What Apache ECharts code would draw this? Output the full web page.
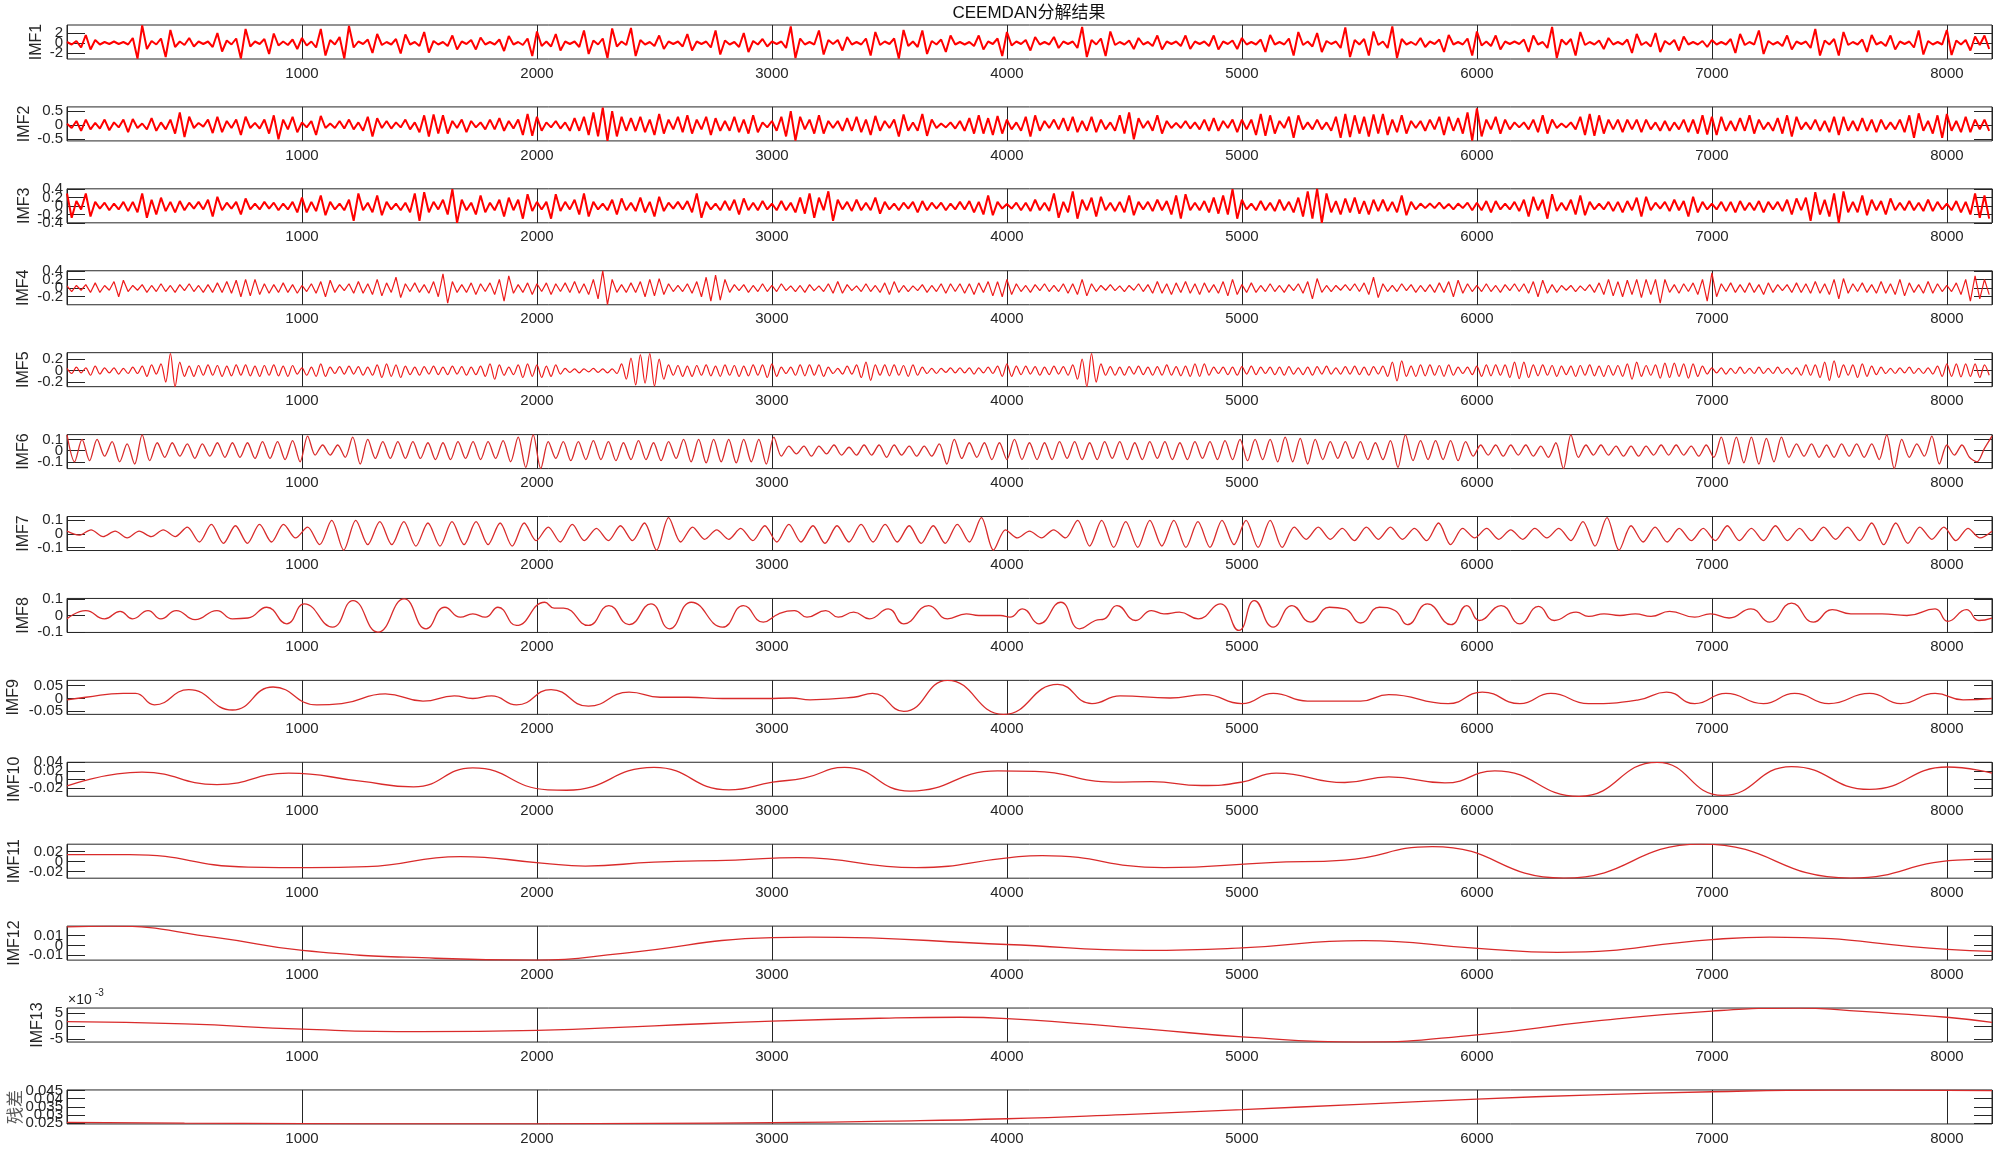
<!DOCTYPE html>
<html>
<head>
<meta charset="utf-8">
<title>CEEMDAN分解结果</title>
<script src="https://cdn.jsdelivr.net/npm/echarts@6/dist/echarts.min.js"></script>
<style>
  html, body { margin: 0; padding: 0; background: #fff; }
  #main { width: 2000px; height: 1149px; }
</style>
</head>
<body>
<div id="main"></div>
<script>
// sample count of the signal, x axis ticks
var sampleCount = 8192;
var names = ['IMF1', 'IMF2', 'IMF3', 'IMF4', 'IMF5', 'IMF6', 'IMF7', 'IMF8', 'IMF9', 'IMF10', 'IMF11', 'IMF12', 'IMF13', '残差'];

// y limits and tick values
var yMin = [-3.2, -0.56, -0.4, -0.385, -0.28, -0.161, -0.123, -0.102, -0.062, -0.039, -0.0333, -0.0149, -0.0062, 0.0245];
var yMax = [3.6, 0.65, 0.41, 0.4, 0.314, 0.143, 0.128, 0.103, 0.071, 0.04, 0.0347, 0.0197, 0.00697, 0.0454];
var yTicks = [
  [-2, 0, 2], [-0.5, 0, 0.5], [-0.4, -0.2, 0, 0.2, 0.4], [-0.2, 0, 0.2, 0.4], [-0.2, 0, 0.2],
  [-0.1, 0, 0.1], [-0.1, 0, 0.1], [-0.1, 0, 0.1], [-0.05, 0, 0.05], [-0.02, 0, 0.02, 0.04],
  [-0.02, 0, 0.02], [-0.01, 0, 0.01], [-0.005, 0, 0.005], [0.025, 0.03, 0.035, 0.04, 0.045]
];

// IMF1..IMF5: one value every 20 samples
var imf1 = [
  .2,-.3,.4,-.9,1.6,-1.3,.6,-.3,.2,-.2,
  .3,-.2,.2,-.3,1,-3.1,3.5,-1.2,.4,-.3,
  .9,-2.8,2.6,-.8,.3,-.4,1,-.7,.3,-.2,
  .3,-.8,2,-1.7,.5,-.3,.9,-3.1,2.8,-.7,
  .3,-.2,.8,-2.2,1.9,-.5,.3,-.4,.7,-1.2,
  1,-.5,.3,-.9,2.8,-2.5,.6,-.3,1.2,-3.1,
  3.4,-.9,.3,-.2,.7,-2,1.8,-.4,.2,-.3,
  .8,-2.1,1.7,-.3,.2,-.6,2.2,-1.9,.4,-.3,
  .2,-.6,1.5,-1.3,.3,-.2,.6,-1.3,1.1,-.3,
  .2,-.3,.7,-1.6,1.4,-.3,.2,-.4,.9,-2.6,
  2.3,-.6,.3,-.7,1.8,-1.5,.3,-.2,.3,-.8,
  2.5,-2.2,.5,-.3,.9,-3,2.9,-.7,.3,-.4,
  3,-2.6,.6,-.3,.2,-.6,1.5,-1.2,.3,-.2,
  .3,-.7,1.8,-1.5,.3,-.2,.3,-.9,2.5,-2.3,
  .5,-.3,.2,-.8,2,-1.8,.4,-.3,.8,-.7,
  .3,-.2,.3,-1,3.3,-3,.9,-.3,.2,-.3,
  2.5,-2.3,.6,-.2,.6,-1.5,1.2,-.3,.2,-.3,
  .9,-2.5,2.2,-.4,.3,-.2,.9,-3.1,2.6,-.6,
  .3,-.8,2.5,-2.2,.4,-.3,.7,-1.8,1.5,-.3,
  .2,-.3,.2,-.6,1.5,-1.3,.3,-.2,.9,-2.6,
  2.2,-.5,.3,-.2,.6,-1.5,1.2,-.3,.2,-.3,
  1.2,-1,.3,-.2,.3,-1,3.2,-2.8,.6,-.3,
  .9,-2.6,2.3,-.4,.2,-.3,.5,-1.2,1,-.3,
  .2,-.6,1.5,-1.3,.3,-.2,.3,-.6,1.5,-1.2,
  .3,-.2,.3,-.6,1.5,-1.3,.3,-.2,.5,-1.2,
  1,-.3,.2,-.3,.7,-1.8,1.6,-.3,.2,-.3,
  .9,-2.5,2.2,-.4,.3,-.7,2,-1.8,.4,-.2,
  .3,-1,3.1,-2.8,.6,-.3,.8,-2.5,2.3,-.4,
  .3,-1,3.3,-3,.8,-.3,.2,-.4,1,-.8,
  .3,-.2,.7,-1.8,1.6,-.3,.2,-.3,.9,-2.5,
  2.3,-.5,.3,-.6,1.5,-1.3,.3,-.2,.3,-.2,
  .7,-1.8,1.5,-.3,.2,-1,3.2,-3,.7,-.3,
  .8,-2.5,2.2,-.4,.2,-.3,.5,-1.2,1,-.3,
  .2,-.3,.7,-2,1.8,-.4,.2,-.7,2,-1.8,
  .4,-.3,.6,-1.5,1.3,-.3,.2,-.3,.4,-.8,
  .6,-.3,.2,-.3,.8,-2,1.8,-.4,.2,-.3,
  2.5,-2.2,.4,-.3,.2,-.6,1.5,-1.3,.3,-.2,
  .3,-1,2.8,-2.5,.5,-.3,.8,-2.5,2.2,-.4,
  .2,-.3,.7,-1.8,1.6,-.3,.2,-.6,1.5,-1.3,
  .3,-.2,.3,-.9,2.5,-2.3,.4,-.3,.2,-.3,
  2.6,-2.4,.5,-.3,.6,-1.5,1.3,-.4,1.5,-1.2
];
var imf2 = [
  .05,-.1,.15,-.2,.2,-.15,.08,-.12,.2,-.18,
  .1,-.08,.2,-.25,.22,-.1,.06,-.15,.25,-.2,
  .1,-.15,.2,-.3,.45,-.42,.3,-.1,.08,-.05,
  .2,-.28,.3,-.25,.15,-.1,.2,-.35,.3,-.1,
  .08,-.12,.2,-.3,.35,-.5,.2,-.15,.3,-.25,
  .1,-.08,.15,-.35,.33,-.1,.06,-.1,.15,-.12,
  .2,-.15,.1,-.2,.3,-.4,.25,-.1,.15,-.12,
  .1,-.08,.2,-.15,.1,-.25,.35,-.4,.38,-.3,
  .35,-.3,.15,-.1,.2,-.25,.15,-.08,.1,-.15,
  .2,-.15,.25,-.2,.15,-.12,.2,-.35,.4,-.38,
  .3,-.2,.1,-.08,.15,-.12,.1,-.2,.25,-.2,
  .3,-.35,.45,-.4,.62,-.56,.5,-.4,.3,-.2,
  .25,-.2,.3,-.25,.2,-.35,.4,-.3,.2,-.15,
  .3,-.25,.35,-.3,.2,-.15,.3,-.35,.25,-.2,
  .15,-.2,.3,-.25,.2,-.3,.35,-.25,.1,-.08,
  .15,-.2,.3,-.4,.5,-.55,.3,-.15,.2,-.3,
  .35,-.3,.15,-.1,.15,-.2,.25,-.2,.3,-.25,
  .2,-.35,.33,-.2,.15,-.1,.2,-.4,.38,-.2,
  .1,-.2,.4,-.38,.2,-.1,.06,-.08,.1,-.12,
  .15,-.2,.25,-.3,.35,-.3,.25,-.35,.33,-.3,
  .2,-.15,.1,-.2,.3,-.4,.35,-.2,.15,-.1,
  .2,-.15,.25,-.2,.3,-.25,.15,-.2,.3,-.25,
  .2,-.15,.1,-.2,.35,-.3,.45,-.5,.25,-.1,
  .15,-.2,.35,-.3,.15,-.1,.08,-.1,.15,-.12,
  .1,-.15,.2,-.2,.25,-.2,.15,-.1,.2,-.25,
  .2,-.15,.2,-.35,.4,-.38,.35,-.3,.15,-.1,
  .3,-.45,.35,-.15,.1,-.15,.2,-.15,.1,-.2,
  .3,-.45,.4,-.42,.35,-.3,.3,-.4,.38,-.3,
  .4,-.35,.2,-.25,.35,-.3,.15,-.1,.15,-.2,
  .2,-.15,.3,-.35,.3,-.2,.25,-.3,.45,-.55,
  .6,-.4,.2,-.15,.3,-.3,.2,-.15,.1,-.08,
  .1,-.15,.2,-.25,.35,-.3,.2,-.1,.06,-.08,
  .1,-.15,.3,-.35,.4,-.38,.35,-.3,.2,-.15,
  .2,-.25,.2,-.15,.2,-.25,.2,-.15,.1,-.2,
  .15,-.2,.1,-.15,.2,-.25,.2,-.3,.35,-.33,
  .3,-.35,.3,-.2,.15,-.2,.25,-.2,.35,-.3,
  .2,-.15,.1,-.2,.25,-.3,.35,-.4,.3,-.15,
  .1,-.15,.2,-.2,.15,-.25,.3,-.35,.3,-.2,
  .15,-.2,.25,-.2,.2,-.25,.2,-.15,.1,-.15,
  .2,-.25,.35,-.45,.42,-.2,.15,-.3,.35,-.45,
  .4,-.2,.15,-.25,.3,-.25,.2,-.15,.2,-.2
];
var imf3 = [
  .3,-.28,.12,-.08,.3,-.25,.1,-.06,.08,-.1,
  .06,-.08,.1,-.12,.1,-.15,.3,-.28,.15,-.2,
  .2,-.12,.1,-.15,.12,-.1,.08,-.06,.1,-.08,
  .15,-.25,.22,-.1,.08,-.06,.1,-.2,.18,-.08,
  .06,-.08,.1,-.06,.08,-.1,.06,-.08,.1,-.15,
  .2,-.15,.1,-.12,.25,-.22,.1,-.08,.06,-.1,
  .15,-.35,.3,-.1,.08,-.15,.25,-.22,.1,-.08,
  .06,-.1,.08,-.15,.3,-.35,.33,-.15,.1,-.08,
  .15,-.2,.4,-.4,.15,-.1,.08,-.2,.25,-.15,
  .08,-.1,.15,-.25,.2,-.1,.15,-.3,.28,-.12,
  .1,-.08,.1,-.3,.28,-.12,.1,-.08,.15,-.2,
  .3,-.25,.1,-.08,.06,-.1,.15,-.2,.18,-.1,
  .08,-.12,.2,-.15,.1,-.25,.22,-.12,.08,-.06,
  .1,-.08,.12,-.15,.3,-.28,.1,-.08,.06,-.1,
  .12,-.1,.15,-.2,.18,-.1,.08,-.1,.12,-.08,
  .06,-.1,.12,-.1,.08,-.15,.2,-.18,.3,-.28,
  .2,-.1,.35,-.35,.15,-.08,.1,-.12,.15,-.1,
  .08,-.1,.2,-.18,.1,-.08,.06,-.1,.08,-.06,
  .1,-.15,.12,-.1,.08,-.06,.08,-.1,.06,-.08,
  .1,-.08,.12,-.15,.1,-.2,.25,-.22,.1,-.06,
  .05,-.06,.08,-.1,.08,-.12,.15,-.1,.08,-.12,
  .3,-.28,.1,-.15,.35,-.3,.15,-.1,.2,-.25,
  .22,-.1,.08,-.12,.1,-.15,.25,-.22,.1,-.08,
  .1,-.12,.15,-.1,.12,-.2,.25,-.3,.28,-.1,
  .08,-.1,.12,-.15,.2,-.18,.25,-.2,.4,-.3,
  .15,-.08,.06,-.1,.12,-.1,.08,-.12,.15,-.1,
  .1,-.15,.2,-.25,.35,-.3,.41,-.4,.3,-.15,
  .12,-.2,.18,-.15,.2,-.18,.12,-.2,.15,-.12,
  .15,-.12,.1,-.15,.25,-.22,.1,-.08,.06,-.05,
  .06,-.05,.08,-.06,.05,-.08,.06,-.05,.08,-.1,
  .08,-.1,.12,-.15,.12,-.08,.06,-.08,.1,-.12,
  .15,-.25,.22,-.1,.15,-.3,.28,-.12,.08,-.1,
  .15,-.2,.25,-.22,.1,-.08,.06,-.08,.1,-.12,
  .1,-.15,.12,-.1,.2,-.25,.22,-.1,.08,-.06,
  .1,-.12,.15,-.1,.12,-.25,.22,-.15,.1,-.08,
  .06,-.08,.1,-.12,.1,-.15,.12,-.1,.08,-.1,
  .12,-.15,.1,-.08,.1,-.12,.15,-.2,.18,-.1,
  .2,-.35,.33,-.2,.15,-.25,.3,-.4,.35,-.15,
  .1,-.15,.25,-.22,.15,-.1,.12,-.2,.18,-.1,
  .08,-.1,.12,-.1,.08,-.12,.15,-.12,.1,-.08,
  .06,-.1,.12,-.15,.1,-.2,.3,-.28,.25,-.3
];
var imf4 = [
  .05,-.08,.06,-.05,.08,-.1,.12,-.1,.06,-.05,
  .15,-.2,.18,-.08,.06,-.05,.08,-.1,.06,-.08,
  .1,-.08,.06,-.1,.08,-.06,.1,-.08,.06,-.1,
  .08,-.1,.12,-.1,.15,-.12,.18,-.2,.2,-.18,
  .2,-.15,.1,-.12,.08,-.1,.12,-.1,.08,-.12,
  .06,-.08,.1,-.12,.15,-.2,.18,-.1,.08,-.06,
  .1,-.12,.15,-.12,.1,-.15,.2,-.18,.12,-.1,
  .25,-.22,.1,-.08,.12,-.1,.08,-.12,.15,-.2,
  .33,-.35,.15,-.1,.08,-.1,.12,-.15,.1,-.08,
  .12,-.15,.2,-.3,.28,-.12,.08,-.1,.12,-.15,
  .1,-.08,.12,-.15,.1,-.08,.12,-.1,.15,-.12,
  .1,-.15,.2,-.25,.4,-.38,.2,-.1,.08,-.1,
  .12,-.1,.15,-.2,.2,-.18,.22,-.15,.1,-.08,
  .06,-.08,.1,-.12,.15,-.2,.25,-.3,.3,-.28,
  .2,-.1,.08,-.06,.08,-.1,.06,-.08,.1,-.08,
  .06,-.08,.1,-.06,.05,-.08,.06,-.1,.08,-.06,
  .05,-.08,.1,-.12,.15,-.12,.08,-.06,.05,-.08,
  .1,-.08,.06,-.1,.12,-.15,.15,-.1,.06,-.08,
  .05,-.06,.08,-.1,.06,-.08,.1,-.12,.1,-.08,
  .1,-.12,.1,-.15,.12,-.1,.15,-.18,.15,-.2,
  .2,-.15,.1,-.08,.06,-.1,.08,-.06,.1,-.08,
  .06,-.08,.1,-.12,.1,-.15,.2,-.18,.1,-.08,
  .06,-.05,.08,-.06,.05,-.08,.06,-.05,.1,-.08,
  .08,-.12,.15,-.12,.1,-.15,.12,-.1,.15,-.12,
  .1,-.15,.12,-.1,.08,-.12,.15,-.18,.2,-.15,
  .08,-.1,.12,-.1,.06,-.08,.1,-.08,.06,-.1,
  .08,-.06,.1,-.12,.15,-.25,.22,-.1,.06,-.08,
  .06,-.05,.08,-.06,.1,-.08,.12,-.15,.25,-.22,
  .1,-.08,.06,-.08,.1,-.06,.08,-.1,.06,-.08,
  .08,-.1,.12,-.1,.15,-.2,.18,-.12,.1,-.08,
  .06,-.08,.1,-.08,.06,-.1,.08,-.06,.1,-.08,
  .1,-.12,.15,-.2,.18,-.12,.08,-.1,.06,-.05,
  .06,-.08,.05,-.06,.08,-.1,.12,-.15,.2,-.18,
  .15,-.2,.18,-.15,.2,-.22,.2,-.15,.2,-.35,
  .2,-.1,.08,-.12,.1,-.08,.12,-.15,.2,-.3,
  .35,-.2,.1,-.08,.12,-.1,.08,-.1,.12,-.1,
  .08,-.15,.12,-.1,.08,-.06,.08,-.1,.12,-.1,
  .1,-.12,.15,-.12,.1,-.15,.2,-.25,.22,-.12,
  .1,-.08,.12,-.1,.08,-.12,.15,-.12,.1,-.15,
  .2,-.18,.12,-.1,.08,-.12,.15,-.12,.1,-.08,
  .06,-.08,.12,-.15,.2,-.3,.28,-.25,.2,-.15
];
var imf5 = [
  .04,-.05,.06,-.04,.05,-.08,.08,-.06,.05,-.04,
  .05,-.06,.04,-.05,.06,-.05,.08,-.1,.1,-.06,
  .12,-.2,.3,-.28,.15,-.1,.08,-.1,.09,-.08,
  .1,-.08,.09,-.1,.08,-.09,.1,-.08,.1,-.09,
  .08,-.1,.09,-.08,.1,-.09,.08,-.1,.09,-.06,
  .05,-.08,.06,-.1,.12,-.1,.06,-.05,.07,-.06,
  .08,-.06,.07,-.08,.06,-.08,.1,-.12,.12,-.1,
  .1,-.12,.08,-.07,.06,-.08,.07,-.06,.08,-.07,
  .06,-.07,.08,-.06,.07,-.08,.06,-.07,.08,-.1,
  .12,-.15,.1,-.08,.06,-.07,.1,-.12,.12,-.1,
  .1,-.12,.08,-.1,.1,-.06,.04,-.03,.03,-.04,
  .03,-.02,.04,-.03,.03,-.04,.03,-.05,.12,-.15,
  .22,-.25,.28,-.22,.3,-.27,.2,-.15,.1,-.08,
  .09,-.1,.08,-.1,.09,-.08,.1,-.09,.08,-.1,
  .1,-.08,.09,-.1,.08,-.09,.1,-.08,.1,-.12,
  .12,-.1,.06,-.05,.06,-.08,.1,-.09,.1,-.08,
  .1,-.1,.06,-.05,.04,-.06,.08,-.06,.1,-.12,
  .15,-.17,.1,-.08,.1,-.09,.1,-.08,.09,-.1,
  .1,-.08,.06,-.05,.04,-.05,.04,-.03,.05,-.04,
  .05,-.04,.05,-.06,.05,-.04,.06,-.05,.08,-.1,
  .12,-.1,.08,-.07,.08,-.06,.07,-.08,.06,-.07,
  .08,-.06,.07,-.08,.1,-.15,.2,-.28,.3,-.2,
  .12,-.08,.07,-.08,.06,-.08,.07,-.06,.08,-.07,
  .06,-.08,.07,-.08,.1,-.08,.07,-.09,.08,-.1,
  .12,-.1,.12,-.08,.06,-.05,.06,-.07,.06,-.08,
  .07,-.06,.08,-.07,.06,-.05,.06,-.07,.06,-.08,
  .07,-.06,.05,-.07,.06,-.08,.07,-.06,.08,-.06,
  .05,-.06,.07,-.06,.08,-.07,.06,-.08,.07,-.06,
  .08,-.1,.15,-.18,.17,-.1,.08,-.1,.1,-.09,
  .1,-.08,.09,-.1,.1,-.08,.06,-.05,.06,-.07,
  .08,-.1,.1,-.09,.1,-.08,.1,-.12,.15,-.14,
  .15,-.12,.1,-.09,.1,-.08,.09,-.1,.08,-.07,
  .08,-.1,.09,-.08,.1,-.09,.08,-.1,.09,-.08,
  .09,-.1,.12,-.15,.15,-.1,.09,-.08,.1,-.13,
  .13,-.12,.13,-.1,.12,-.13,.12,-.1,.08,-.06,
  .05,-.04,.05,-.06,.04,-.05,.06,-.05,.04,-.05,
  .06,-.05,.04,-.05,.06,-.05,.04,-.06,.05,-.08,
  .1,-.08,.1,-.12,.15,-.17,.17,-.12,.1,-.08,
  .1,-.12,.12,-.1,.08,-.07,.06,-.05,.04,-.05,
  .05,-.04,.06,-.05,.04,-.05,.05,-.06,.08,-.1,
  .12,-.1,.12,-.11,.12,-.1,.12,-.12,.1,-.08
];
// IMF6: one value every 32 samples
var imf6 = [
  .14,-.1,.1,-.09,.1,-.05,.08,-.1,
  .06,-.12,.14,-.09,.07,-.06,.07,-.05,
  .06,-.07,.06,-.05,.07,-.06,.07,-.06,
  .07,-.07,.08,-.07,.08,-.08,.09,-.1,
  .13,-.04,.05,-.04,.05,-.06,.12,-.12,
  .1,-.07,.08,-.07,.08,-.07,.08,-.07,
  .07,-.08,.07,-.08,.08,-.07,.08,-.08,
  .08,-.07,.09,-.1,.12,-.15,.14,-.16,
  .08,-.07,.08,-.09,.08,-.08,.09,-.08,
  .08,-.09,.07,-.08,.09,-.08,.07,-.09,
  .08,-.07,.1,-.1,.1,-.11,.1,-.1,
  .1,-.11,.1,-.1,.1,-.12,.12,-.05,
  .04,-.03,.04,-.05,.04,-.03,.05,-.04,
  .03,-.04,.05,-.04,.05,-.06,.05,-.04,
  .04,-.05,.04,-.05,.06,-.12,.1,-.07,
  .07,-.06,.07,-.08,.07,-.08,.1,-.08,
  .07,-.08,.07,-.08,.08,-.07,.08,-.08,
  .07,-.08,.08,-.07,.08,-.08,.07,-.08,
  .08,-.07,.08,-.08,.07,-.08,.08,-.07,
  .08,-.08,.09,-.08,.1,-.09,.1,-.08,
  .1,-.1,.12,-.1,.11,-.12,.1,-.08,
  .08,-.07,.08,-.07,.08,-.08,.07,-.08,
  .09,-.15,.14,-.09,.09,-.08,.09,-.08,
  .09,-.09,.08,-.05,.05,-.04,.05,-.05,
  .05,-.04,.05,-.05,.04,-.06,.07,-.16,
  .14,-.06,.05,-.04,.05,-.04,.04,-.05,
  .04,-.05,.04,-.04,.05,-.04,.05,-.04,
  .04,-.05,.05,-.06,.12,-.12,.12,-.11,
  .12,-.12,.11,-.1,.12,-.06,.06,-.05,
  .06,-.06,.05,-.06,.06,-.05,.06,-.06,
  .06,-.08,.14,-.16,.1,-.06,.06,-.05,
  .13,-.12,.05,-.04,.05,-.06,-.1,.02,
  .13
];
// IMF7: one value every 51.2 samples
var imf7 = [
  .02,-.01,.03,-.02,.02,-.03,.02,-.02,.03,-.02,
  .05,-.06,.07,-.07,.06,-.07,.07,-.06,.07,-.03,
  .05,-.08,.1,-.12,.1,-.08,.09,-.08,.09,-.09,
  .08,-.09,.09,-.08,.09,-.08,.08,-.09,.08,-.05,
  .05,-.06,.07,-.05,.04,-.05,.06,-.05,.08,-.12,
  .12,-.06,.05,-.04,.03,-.04,.04,-.05,.06,-.06,
  .07,-.06,.06,-.07,.06,-.06,.07,-.06,.07,-.06,
  .06,-.07,.06,-.07,.07,-.06,.12,-.12,.03,-.03,
  .02,-.03,.03,-.03,.1,-.09,.1,-.1,.09,-.1,
  .1,-.09,.1,-.1,.09,-.1,.1,-.08,.1,-.1,
  .1,-.1,.05,-.04,.05,-.04,.04,-.05,.05,-.04,
  .05,-.04,.04,-.05,.08,-.08,.04,-.03,.04,-.04,
  .03,-.04,.04,-.03,.04,-.05,.09,-.09,.12,-.12,
  .06,-.06,.05,-.06,.04,-.05,.04,-.05,.06,-.05,
  .04,-.05,.06,-.05,.04,-.05,.05,-.04,.05,-.05,
  .08,-.08,.08,-.07,.05,-.04,.05,-.05,.04,-.03,.02
];
// IMF8..残差: [sample, value] at turning points
var imf8 = [
  [0,-.02],[80,.03],[160,-.02],[226,.025],[279,-.02],[345,.03],[399,-.02],[465,.03],[545,-.025],[638,.03],
  [704,-.02],[770,-.015],[850,.05],[935,-.05],[1010,.07],[1130,-.07],[1217,.09],[1323,-.1],[1435,.1],[1528,-.08],
  [1608,.05],[1674,-.01],[1727,.01],[1780,-.01],[1834,.05],[1913,-.06],[2033,.08],[2073,.045],[2113,.045],[2219,-.06],
  [2306,.06],[2392,-.055],[2485,.07],[2564,-.08],[2657,.08],[2790,-.07],[2878,.06],[2963,-.04],[3029,.01],[3096,.03],
  [3149,-.01],[3229,.03],[3282,-.01],[3348,.02],[3415,-.02],[3495,.04],[3561,-.05],[3667,.06],[3747,-.02],[3827,.01],
  [3880,0],[3973,0],[4013,-.01],[4066,.04],[4136,-.05],[4229,.08],[4309,-.08],[4376,-.03],[4415,-.02],[4468,.06],
  [4548,-.03],[4615,.03],[4668,.01],[4734,.02],[4814,-.02],[4907,.07],[4987,-.09],[5053,.09],[5133,-.07],[5213,.06],
  [5292,-.04],[5372,.05],[5438,.04],[5505,-.045],[5585,.05],[5651,.03],[5704,-.055],[5789,.07],[5890,-.055],[5957,.06],
  [6010,-.03],[6103,.06],[6183,-.05],[6262,.055],[6329,-.03],[6422,.02],[6475,-.005],[6541,.01],[6608,0],[6674,.01],
  [6741,-.005],[6820,.025],[6927,-.01],[6993,.01],[7073,-.015],[7166,.04],[7246,-.04],[7339,.075],[7432,-.04],[7512,.035],
  [7591,.01],[7724,.01],[7830,0],[7950,.04],[8003,-.035],[8083,.035],[8136,-.03],[8192,-.015]
];
var imf9 = [
  [0,-.005],[80,.005],[239,.02],[292,.02],[372,-.025],[518,.035],[704,-.045],[877,.045],[1063,-.025],[1169,-.02],
  [1355,.018],[1515,-.01],[1648,.01],[1727,0],[1807,.01],[1913,-.025],[2060,.035],[2219,-.03],[2392,.025],[2525,.005],
  [2644,.005],[2790,0],[2976,0],[3083,.002],[3162,-.005],[3348,.005],[3428,.02],[3561,-.05],[3747,.071],[3986,-.062],
  [4216,.055],[4362,-.02],[4482,.01],[4694,.002],[4841,.015],[5000,-.02],[5133,.02],[5279,-.01],[5505,-.01],[5625,.015],
  [5877,-.02],[6023,.025],[6183,-.02],[6315,.02],[6475,-.02],[6688,-.005],[6807,.025],[6927,-.02],[7060,.02],[7219,-.02],
  [7352,.02],[7498,-.02],[7671,.02],[7804,-.02],[7950,.02],[8069,-.005],[8192,0]
];
var imf10 = [
  [0,-.015],[319,.017],[638,-.012],[943,.015],[1249,-.004],[1475,-.017],[1727,.027],[2046,-.024],[2126,-.025],[2498,.028],
  [2817,-.024],[3003,-.006],[3136,.003],[3309,.028],[3588,-.027],[3960,.02],[4119,.019],[4455,-.006],[4615,-.005],[4827,-.014],
  [5000,-.006],[5146,.015],[5438,-.007],[5625,.006],[5864,-.008],[6076,.02],[6435,-.039],[6767,.04],[7046,-.037],[7339,.03],
  [7671,-.023],[8003,.029],[8192,.015]
];
var imf11 = [
  [0,.014],[266,.014],[771,-.011],[1036,-.012],[1276,-.01],[1674,.01],[2020,-.003],[2206,-.009],[2498,-.001],[2844,.003],
  [3109,.008],[3614,-.012],[4013,.008],[4150,.012],[4668,-.012],[5120,-.002],[5438,.003],[5810,.03],[6369,-.033],[6954,.0347],
  [7591,-.033],[8043,.003],[8192,.005]
];
var imf12 = [
  [0,.019],[186,.0197],[638,.008],[1002,-.005],[1568,-.013],[2000,-.0149],[2365,-.008],[3003,.008],[3162,.0085],[4000,.001],
  [4588,-.005],[5000,-.0025],[5518,.005],[6004,-.003],[6342,-.007],[7000,.006],[7246,.0085],[8003,-.004],[8192,-.006]
];
var imf13 = [
  [0,.0017],[500,.0008],[1000,-.0012],[1500,-.0022],[2000,-.0017],[2500,.0001],[3000,.0019],[3500,.0031],[3800,.0034],[4000,.0029],
  [4600,-.0012],[5000,-.0042],[5500,-.0062],[6000,-.0034],[6500,.0019],[7000,.0058],[7374,.00697],[7586,.006],[7800,.0047],[8000,.0034],
  [8192,.00145]
];
var residual = [
  [0,.0255],[500,.025],[1000,.0247],[1500,.0245],[2000,.0246],[2500,.0248],[3000,.0253],[3500,.0262],[4000,.0277],[4500,.0303],
  [5000,.0333],[5500,.0366],[6000,.0398],[6500,.0424],[7000,.0443],[7500,.0453],[8000,.0452],[8192,.045]
];

function stepped(vals, step) {
  return vals.map(function (v, i) { return [i * step, v]; });
}

var seriesData = [
  stepped(imf1, 20), stepped(imf2, 20), stepped(imf3, 20), stepped(imf4, 20), stepped(imf5, 20),
  stepped(imf6, 32), stepped(imf7, 51.2),
  imf8, imf9, imf10, imf11, imf12, imf13, residual
];

var nameGaps = [22, 34, 34, 35, 35, 35, 35, 35, 45, 44, 44, 44, 21, 44];
var axisColor = '#262626';
var font = 'Liberation Sans, Arial, Helvetica, sans-serif';

function labelFormatter(k) {
  if (k === 12) {
    return function (v) { return String(Math.round(v * 1000)); };
  }
  return function (v) { return String(+v.toFixed(4)); };
}
// tick labels are split over two stacked left axes so none of them gets dropped
function everyOther(list, start) {
  return list.filter(function (v, i) { return i % 2 === start; });
}
function yLabelStyle(k, values) {
  return {
    margin: 4, fontSize: 15, lineHeight: 4, fontFamily: font, color: axisColor,
    interval: 0, customValues: values, hideOverlap: false, showMinLabel: true, showMaxLabel: true,
    formatter: labelFormatter(k)
  };
}

var grids = [], xAxes = [], yAxes = [], series = [];
for (var k = 0; k < 14; k++) {
  var gridTop = 25 + k * 81.92;
  grids.push({
    left: 67, width: 1925, top: gridTop, height: 34,
    outerBoundsMode: 'none', containLabel: false,
    show: true, borderColor: axisColor, borderWidth: 1
  });
  xAxes.push({
    type: 'value', gridIndex: k, min: 0, max: sampleCount, interval: 1000,
    axisLine: { show: false, onZero: false },
    axisTick: { show: false },
    splitLine: { show: true, lineStyle: { color: axisColor, width: 1 } },
    axisLabel: {
      margin: 7, fontSize: 15, fontFamily: font, color: axisColor,
      formatter: function (v) { return (v > 0 && v < 8192 && v % 1000 === 0) ? String(v) : ''; }
    }
  });
  var isCjk = (k === 13);
  yAxes.push({
    type: 'value', gridIndex: k, position: 'left', min: yMin[k], max: yMax[k],
    name: names[k], nameLocation: 'middle', nameGap: nameGaps[k], nameMoveOverlap: false,
    nameTextStyle: {
      fontSize: isCjk ? 17 : 16, color: isCjk ? '#5a5a5a' : axisColor,
      fontFamily: isCjk ? 'Noto Sans CJK SC' : font
    },
    axisLine: { show: false, onZero: false },
    splitLine: { show: false },
    axisTick: { show: true, inside: true, length: 18, customValues: yTicks[k], lineStyle: { color: axisColor, width: 1 } },
    axisLabel: yLabelStyle(k, everyOther(yTicks[k], 0))
  });
  yAxes.push({
    type: 'value', gridIndex: k, position: 'right', min: yMin[k], max: yMax[k],
    axisLine: { show: false, onZero: false },
    splitLine: { show: false },
    axisTick: { show: true, inside: true, length: 18, customValues: yTicks[k], lineStyle: { color: axisColor, width: 1 } },
    axisLabel: { show: false }
  });
  yAxes.push({
    type: 'value', gridIndex: k, position: 'left', offset: 0, min: yMin[k], max: yMax[k],
    axisLine: { show: false, onZero: false },
    splitLine: { show: false },
    axisTick: { show: false },
    axisLabel: yLabelStyle(k, everyOther(yTicks[k], 1))
  });
  var color = k < 3 ? '#ff0000' : (k < 5 ? '#ee1b1b' : '#d92b2b');
  series.push({
    type: 'line', name: names[k], xAxisIndex: k, yAxisIndex: 3 * k,
    data: seriesData[k], symbol: 'none', showSymbol: false,
    smooth: k < 4 ? false : (k < 7 ? 0.3 : 0.5),
    lineStyle: { color: color, width: k < 3 ? 2 : (k < 5 ? 1.2 : 1.3) },
    silent: true, animation: false
  });
}

var chart = echarts.init(document.getElementById('main'));
var option = {
  backgroundColor: '#ffffff',
  animation: false,
  grid: grids,
  xAxis: xAxes,
  yAxis: yAxes,
  series: series,
  graphic: [
    { type: 'text', x: 1029, y: 13, style: { text: 'CEEMDAN分解结果', fontSize: 17, fontFamily: 'Liberation Sans, Noto Sans CJK SC, sans-serif', fill: '#111', textAlign: 'center', textVerticalAlign: 'middle' } },
    { type: 'text', x: 68, y: 1000, style: { text: '×10', fontSize: 14, fontFamily: font, fill: axisColor, textAlign: 'left', textVerticalAlign: 'middle' } },
    { type: 'text', x: 95, y: 993, style: { text: '-3', fontSize: 10, fontFamily: font, fill: axisColor, textAlign: 'left', textVerticalAlign: 'middle' } }
  ]
};
option && chart.setOption(option);
</script>
</body>
</html>
